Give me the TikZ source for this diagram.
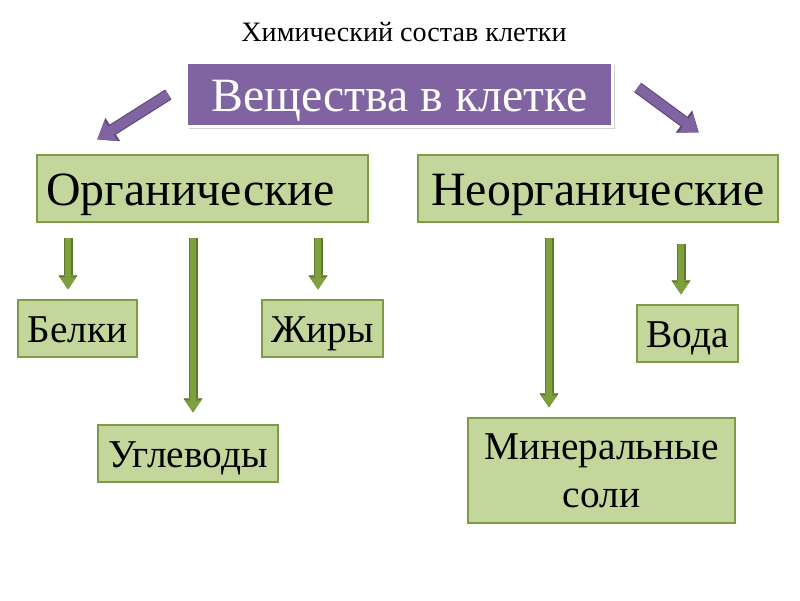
\documentclass[tikz,border=0pt]{standalone}
\usepackage{fontspec}
\setmainfont{Liberation Serif}
\usetikzlibrary{arrows.meta, positioning, shadows}
\definecolor{boxfill}{HTML}{C3D69B}
\definecolor{boxline}{HTML}{7F9B45}
\definecolor{arrfill}{HTML}{7E9F3E}
\definecolor{arrline}{HTML}{5E7A2B}
\definecolor{purp}{HTML}{8064A2}
\definecolor{purpdark}{HTML}{5C4776}

\begin{document}
\begin{tikzpicture}[x=0.025cm, y=-0.025cm,
  box/.style={draw=boxline, fill=boxfill, line width=0.9pt, inner sep=0pt,
    font=\fontsize{28}{34}\selectfont, align=center},
  onebox/.style={box, text height=26.3pt, text depth=6.2pt},
  bigbox/.style={box, font=\fontsize{34}{40}\selectfont,
    text height=32pt, text depth=7.5pt},
  topbox/.style={draw=white, fill=purp, line width=1.6pt, inner sep=0pt,
    text=white, font=\fontsize{34}{40}\selectfont,
    text height=32.3pt, text depth=7.5pt,
    drop shadow={opacity=0.35, shadow xshift=1.5pt, shadow yshift=-1.5pt}},
  garrow/.style={draw=arrfill, line width=4.8pt,
    -{Triangle[length=8.5pt, width=11.5pt, line width=0.5pt]},
    preaction={draw=arrline, line width=6.4pt,
      -{Triangle[length=10pt, width=13.5pt, line width=0.5pt]}}},
  parrow/.style={draw=purp, line width=6.8pt,
    -{Triangle[length=11.5pt, width=17pt, line width=0.5pt]},
    preaction={draw=purpdark, line width=8.4pt,
      -{Triangle[length=13pt, width=19.5pt, line width=0.5pt]}}}]

  \useasboundingbox[fill=white] (0,0) rectangle (800,600);

  % title and top box
  \node[font=\fontsize{20}{24}\selectfont] (title) at (404,32) {Химический состав клетки};
  \node[topbox, minimum width=10.65cm, minimum height=1.6cm] (main) at (399.5,94.5)
    {Вещества в клетке};

  % groups
  \node[bigbox, minimum width=8.275cm, minimum height=1.675cm] (org) at (202.5,188.5)
    {Органические\hspace{0.5em}};
  \node[bigbox, minimum width=9cm, minimum height=1.675cm] (neorg) at (598,188.5)
    {Неорганические};

  % substances
  \node[onebox, minimum width=2.975cm, minimum height=1.425cm] (belki) at (77.5,328.5) {Белки};
  \node[onebox, minimum width=3.025cm, minimum height=1.425cm] (zhiry) at (322.5,328.5) {Жиры};
  \node[onebox, minimum width=4.5cm, minimum height=1.425cm] (uglev) at (188,453.5) {Углеводы};
  \node[onebox, minimum width=2.525cm, minimum height=1.425cm] (voda) at (687.5,333.5) {Вода};
  \node[box, minimum width=6.675cm, minimum height=2.625cm] (miner) at (601.5,470.5)
    {Минеральные\\соли};

  % arrows from the top box
  \draw[parrow] ([xshift=-0.425cm]main.west) -- ([shift={(1.525cm,0.375cm)}]org.north west);
  \draw[parrow] ([shift={(0.6cm,0.175cm)}]main.east) -- ([shift={(-2cm,0.55cm)}]neorg.north east);

  % arrows to the substances
  \coordinate (xb) at (68,0);
  \coordinate (xu) at (193,0);
  \coordinate (xz) at (318,0);
  \coordinate (xm) at (549,0);
  \coordinate (xv) at (681,0);
  \draw[garrow, shorten <=0.375cm, shorten >=0.25cm] (org.south -| xb) -- (belki.north -| xb);
  \draw[garrow, shorten <=0.375cm, shorten >=0.3cm] (org.south -| xu) -- (uglev.north -| xu);
  \draw[garrow, shorten <=0.375cm, shorten >=0.25cm] (org.south -| xz) -- (zhiry.north -| xz);
  \draw[garrow, shorten <=0.375cm, shorten >=0.25cm] (neorg.south -| xm) -- (miner.north -| xm);
  \draw[garrow, shorten <=0.525cm, shorten >=0.25cm] (neorg.south -| xv) -- (voda.north -| xv);
\end{tikzpicture}
\end{document}
